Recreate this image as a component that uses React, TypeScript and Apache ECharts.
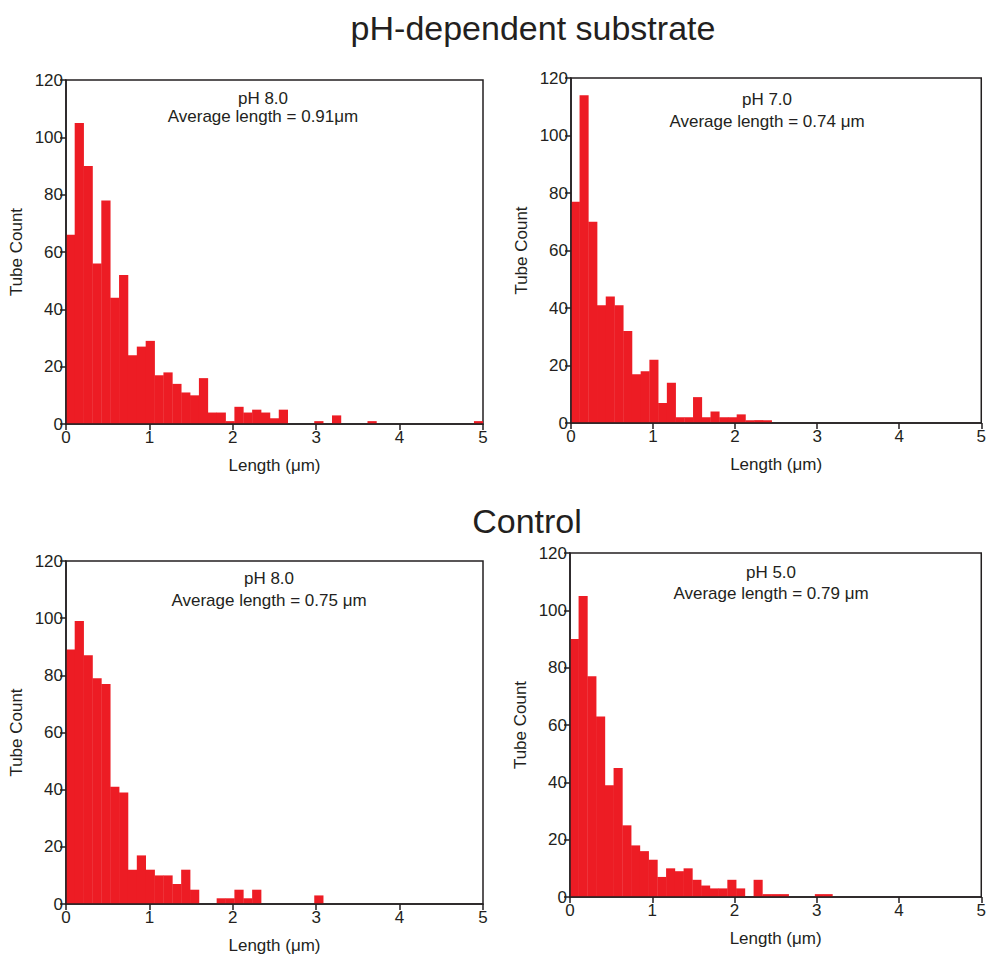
import React, { useEffect, useRef } from "react";
import * as echarts from "echarts";

// 47 equal-width length bins spanning the 0–5 µm axis
const BIN_COUNT = 47;
const binStarts: string[] = Array.from({ length: BIN_COUNT }, (_, k) => ((k * 5) / BIN_COUNT).toFixed(3));

const xTicks = [0, 1, 2, 3, 4, 5];
const yTicks = [0, 20, 40, 60, 80, 100, 120];

// Tube counts per bin
const substratePH8 = [
  66, 105, 90, 56, 78, 44, 52, 24, 27, 29,
  17, 18, 14, 11, 10, 16, 4, 4, 1, 6,
  4, 5, 4, 2, 5, 0, 0, 0, 1, 0,
  3, 0, 0, 0, 1, 0, 0, 0, 0, 0,
  0, 0, 0, 0, 0, 0, 1,
];
const substratePH7 = [
  77, 114, 70, 41, 44, 41, 32, 17, 18, 22,
  7, 14, 2, 2, 9, 2, 4, 2, 2, 3,
  1, 1, 1, 0, 0, 0, 0, 0, 0, 0,
  0, 0, 0, 0, 0, 0, 0, 0, 0, 0,
  0, 0, 0, 0, 0, 0, 0,
];
const controlPH8 = [
  89, 99, 87, 79, 77, 41, 39, 12, 17, 12,
  10, 10, 7, 12, 5, 0, 0, 2, 2, 5,
  2, 5, 0, 0, 0, 0, 0, 0, 3, 0,
  0, 0, 0, 0, 0, 0, 0, 0, 0, 0,
  0, 0, 0, 0, 0, 0, 0,
];
const controlPH5 = [
  90, 105, 77, 63, 39, 45, 25, 18, 16, 13,
  7, 10, 9, 10, 6, 4, 3, 3, 6, 3,
  0, 6, 1, 1, 1, 0, 0, 0, 1, 1,
  0, 0, 0, 0, 0, 0, 0, 0, 0, 0,
  0, 0, 0, 0, 0, 0, 0,
];

const panelLabels = ["pH 8.0", "pH 7.0", "pH 8.0", "pH 5.0"];
const panelAverages = [
  "Average length = 0.91\u03bcm",
  "Average length = 0.74 \u03bcm",
  "Average length = 0.75 \u03bcm",
  "Average length = 0.79 \u03bcm",
];
const sectionTitles = ["pH-dependent substrate", "Control"];
const panelData = [substratePH8, substratePH7, controlPH8, controlPH5];

const FONT = "'Liberation Sans', Arial, Helvetica, sans-serif";
const INK = "#231F20";
const RED = "#ED1C24";

const grids = [
  { left: 66, top: 80, width: 417, height: 344 },
  { left: 571, top: 78, width: 415, height: 345 },
  { left: 66, top: 561, width: 417, height: 345 },
  { left: 570, top: 553, width: 413, height: 344 },
];
// annotation placement: [centerX, labelY, averageY]
const notePos = [
  [263, 98, 116],
  [767, 99, 121],
  [269, 578, 600],
  [771, 572, 593],
];

export default function App() {
  const ref = useRef<HTMLDivElement>(null);
  useEffect(() => {
    document.body.style.margin = "0";
    if (!ref.current) return;
    const chart = echarts.init(ref.current, undefined, { renderer: "svg" });

    const xAxis: any[] = [];
    const yAxis: any[] = [];
    const series: any[] = [];
    const graphic: any[] = [];

    const txt = (text: string, x: number, y: number, size: number) => ({
      type: "text",
      x,
      y,
      style: {
        text,
        fill: INK,
        font: `${size}px ${FONT}`,
        align: "center",
        verticalAlign: "middle",
        textAlign: "center",
        textVerticalAlign: "middle",
      },
    });

    grids.forEach((g, i) => {
      xAxis.push({
        type: "category",
        gridIndex: i,
        data: binStarts,
        show: false,
        boundaryGap: true,
      });
      xAxis.push({
        type: "value",
        gridIndex: i,
        position: "bottom",
        min: xTicks[0],
        max: xTicks[xTicks.length - 1],
        interval: 1,
        name: "Length (\u03bcm)",
        nameLocation: "middle",
        nameGap: 33,
        nameTextStyle: { fontSize: 17, color: INK, fontFamily: FONT },
        axisLine: { show: true, lineStyle: { color: INK, width: 1.5 } },
        axisTick: { show: true, inside: false, length: 6, lineStyle: { color: INK, width: 1.5 } },
        axisLabel: { fontSize: 17, color: INK, fontFamily: FONT, margin: 5 },
        splitLine: { show: false },
        z: 5,
      });
      yAxis.push({
        type: "value",
        gridIndex: i,
        min: yTicks[0],
        max: yTicks[yTicks.length - 1],
        interval: 20,
        name: "Tube Count",
        nameLocation: "middle",
        nameGap: 41,
        nameTextStyle: { fontSize: 17, color: INK, fontFamily: FONT },
        axisLine: { show: true, lineStyle: { color: INK, width: 1.5 } },
        axisTick: { show: true, inside: false, length: 6, lineStyle: { color: INK, width: 1.5 } },
        axisLabel: { fontSize: 17, color: INK, fontFamily: FONT, margin: 3 },
        splitLine: { show: false },
        z: 5,
      });
      series.push({
        type: "bar",
        xAxisIndex: i * 2,
        yAxisIndex: i,
        data: panelData[i],
        barWidth: "104%",
        barGap: "0%",
        itemStyle: { color: RED },
        silent: true,
      });
      const [cx, y1, y2] = notePos[i];
      graphic.push(txt(panelLabels[i], cx, y1, 17));
      graphic.push(txt(panelAverages[i], cx, y2, 17));
    });

    graphic.push(txt(sectionTitles[0], 533, 28, 34));
    graphic.push(txt(sectionTitles[1], 527, 521, 34));

    chart.setOption({
      animation: false,
      backgroundColor: "#ffffff",
      grid: grids.map((g) => ({
        ...g,
        show: true,
        borderColor: INK,
        borderWidth: 1.5,
        backgroundColor: "transparent",
        containLabel: false,
      })),
      xAxis,
      yAxis,
      series,
      graphic,
    });
    return () => chart.dispose();
  }, []);
  return <div ref={ref} style={{ width: 989, height: 955 }} />;
}
